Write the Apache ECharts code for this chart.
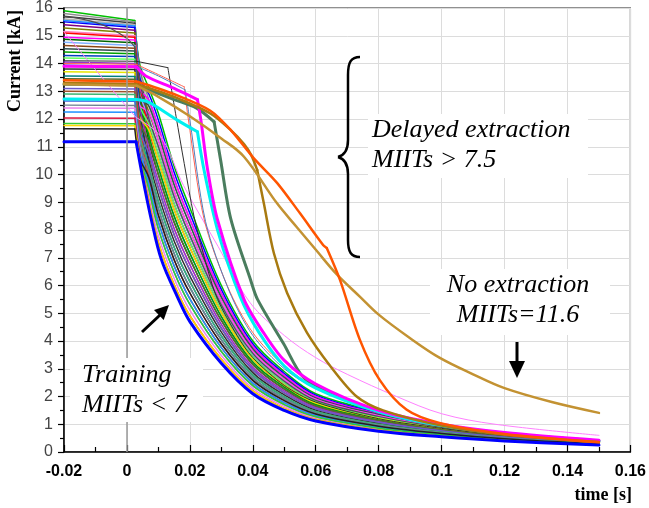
<!DOCTYPE html>
<html><head><meta charset="utf-8">
<script src="https://cdn.jsdelivr.net/npm/echarts@6/dist/echarts.min.js"></script>
<style>html,body{margin:0;padding:0;background:#fff}#c{width:649px;height:508px}</style>
</head><body><div id="c"></div>
<script>
// Common time grid (s) for the training curves
const T = [-0.02, 0.0025, 0.004, 0.007, 0.01, 0.015, 0.02, 0.03, 0.04, 0.05, 0.06, 0.08, 0.1, 0.12, 0.15];

// Training quench curves, current (kA) at the times in T
const trainingCurves = [
  [15.9, 15.55, 14.0, 13.1, 12.2, 10.3, 8.8, 6.0, 4.0, 2.9, 2.1, 1.45, 1.0, 0.7, 0.42],
  [15.8, 15.5, 13.9, 12.67, 11.71, 9.85, 8.39, 5.72, 3.81, 2.76, 2.0, 1.38, 0.96, 0.67, 0.4],
  [15.7, 15.45, 13.8, 12.03, 10.98, 9.18, 7.78, 5.3, 3.53, 2.55, 1.86, 1.28, 0.89, 0.63, 0.38],
  [15.6, 15.4, 13.7, 12.46, 11.47, 9.63, 8.19, 5.58, 3.72, 2.69, 1.95, 1.35, 0.93, 0.66, 0.4],
  [15.55, 15.35, 13.6, 11.38, 10.24, 8.5, 7.16, 4.88, 3.24, 2.34, 1.71, 1.17, 0.82, 0.58, 0.35],
  [15.5, 15.3, 13.5, 12.89, 11.96, 10.08, 8.6, 5.86, 3.9, 2.83, 2.05, 1.41, 0.98, 0.69, 0.41],
  [15.4, 15.2, 13.4, 11.81, 10.73, 8.95, 7.57, 5.16, 3.43, 2.48, 1.81, 1.24, 0.87, 0.61, 0.37],
  [15.28, 15.1, 13.3, 12.24, 11.22, 9.4, 7.98, 5.44, 3.62, 2.62, 1.9, 1.31, 0.91, 0.64, 0.39],
  [15.15, 15.0, 13.2, 10.95, 9.75, 8.05, 6.75, 4.6, 3.05, 2.2, 1.61, 1.1, 0.78, 0.55, 0.34],
  [15.1, 14.95, 13.2, 11.6, 10.49, 8.73, 7.37, 5.02, 3.34, 2.41, 1.76, 1.21, 0.84, 0.59, 0.36],
  [14.95, 14.85, 13.1, 12.67, 11.71, 9.85, 8.39, 5.72, 3.81, 2.76, 2.0, 1.38, 0.96, 0.67, 0.4],
  [14.87, 14.75, 13.0, 11.17, 10.0, 8.28, 6.96, 4.74, 3.15, 2.27, 1.66, 1.14, 0.8, 0.57, 0.34],
  [14.77, 14.65, 12.95, 12.03, 10.98, 9.18, 7.78, 5.3, 3.53, 2.55, 1.86, 1.28, 0.89, 0.63, 0.38],
  [14.65, 14.55, 12.9, 10.74, 9.51, 7.83, 6.55, 4.46, 2.96, 2.13, 1.56, 1.07, 0.76, 0.54, 0.33],
  [14.53, 14.45, 12.8, 12.46, 11.47, 9.63, 8.19, 5.58, 3.72, 2.69, 1.95, 1.35, 0.93, 0.66, 0.4],
  [14.41, 14.35, 12.7, 11.38, 10.24, 8.5, 7.16, 4.88, 3.24, 2.34, 1.71, 1.17, 0.82, 0.58, 0.35],
  [14.29, 14.25, 12.6, 10.31, 9.02, 7.38, 6.14, 4.18, 2.77, 1.99, 1.46, 1.0, 0.71, 0.5, 0.31],
  [14.2, 14.15, 12.5, 11.81, 10.73, 8.95, 7.57, 5.16, 3.43, 2.48, 1.81, 1.24, 0.87, 0.61, 0.37],
  [14.05, 14.0, 12.4, 10.95, 9.75, 8.05, 6.75, 4.6, 3.05, 2.2, 1.61, 1.1, 0.78, 0.55, 0.34],
  [13.93, 13.9, 12.5, 12.24, 11.22, 9.4, 7.98, 5.44, 3.62, 2.62, 1.9, 1.31, 0.91, 0.64, 0.39],
  [13.8, 13.78, 12.2, 10.52, 9.26, 7.6, 6.34, 4.32, 2.86, 2.06, 1.51, 1.03, 0.73, 0.52, 0.32],
  [13.7, 13.68, 12.1, 11.6, 10.49, 8.73, 7.37, 5.02, 3.34, 2.41, 1.76, 1.21, 0.84, 0.59, 0.36],
  [13.55, 13.53, 12.0, 10.09, 8.77, 7.15, 5.93, 4.04, 2.67, 1.92, 1.41, 0.96, 0.69, 0.49, 0.3],
  [13.45, 13.43, 11.9, 11.17, 10.0, 8.28, 6.96, 4.74, 3.15, 2.27, 1.66, 1.14, 0.8, 0.57, 0.34],
  [13.3, 13.28, 11.8, 9.88, 8.53, 6.93, 5.73, 3.9, 2.58, 1.85, 1.37, 0.93, 0.67, 0.48, 0.29],
  [13.1, 13.08, 11.6, 10.74, 9.51, 7.83, 6.55, 4.46, 2.96, 2.13, 1.56, 1.07, 0.76, 0.54, 0.33],
  [13.0, 12.98, 11.5, 9.66, 8.28, 6.7, 5.52, 3.76, 2.48, 1.78, 1.32, 0.89, 0.64, 0.46, 0.28],
  [12.9, 12.88, 11.4, 10.31, 9.02, 7.38, 6.14, 4.18, 2.77, 1.99, 1.46, 1.0, 0.71, 0.5, 0.31],
  [12.65, 12.64, 11.2, 9.45, 8.04, 6.48, 5.32, 3.62, 2.39, 1.71, 1.27, 0.86, 0.62, 0.45, 0.28],
  [12.5, 12.49, 11.1, 10.09, 8.77, 7.15, 5.93, 4.04, 2.67, 1.92, 1.41, 0.96, 0.69, 0.49, 0.3],
  [12.4, 12.39, 11.0, 9.23, 7.79, 6.25, 5.11, 3.48, 2.29, 1.64, 1.22, 0.82, 0.6, 0.43, 0.27],
  [12.25, 12.24, 10.9, 9.66, 8.28, 6.7, 5.52, 3.76, 2.48, 1.78, 1.32, 0.89, 0.64, 0.46, 0.28],
  [12.04, 12.03, 10.8, 9.02, 7.55, 6.03, 4.91, 3.34, 2.2, 1.57, 1.17, 0.79, 0.57, 0.42, 0.26],
  [11.84, 11.83, 10.7, 9.45, 8.04, 6.48, 5.32, 3.62, 2.39, 1.71, 1.27, 0.86, 0.62, 0.45, 0.28],
  [11.77, 11.76, 10.65, 9.02, 7.55, 6.03, 4.91, 3.34, 2.2, 1.57, 1.17, 0.79, 0.57, 0.42, 0.26],
  [11.65, 11.64, 10.6, 9.88, 8.53, 6.93, 5.73, 3.9, 2.58, 1.85, 1.37, 0.93, 0.67, 0.48, 0.29]
];
const trainingColors = ['#00c000','#909090','#404040','#b0b0b0','#2090ff','#0000ff','#800080','#808000','#ff80c0','#ff0000','#ff00ff','#006400','#80b0ff','#8b4513','#2f4f4f','#00a000','#0040c0','#60ff60','#9932cc','#ff40ff','#303030','#e6e600','#008080','#556b2f','#e03030','#6a5acd','#a0522d','#3cb371','#4169e1','#708090','#ee82ee','#1e90ff','#dc143c','#32cd32','#ffd700','#202020'];

// Individual curves
const earlyT = [-0.02, -0.015, -0.01, -0.005, 0.0, 0.0025, 0.004, 0.007, 0.01, 0.015, 0.02, 0.03, 0.04, 0.05, 0.06, 0.08, 0.1, 0.12, 0.15];
const earlyV = [15.68, 15.62, 15.48, 15.25, 14.9, 14.6, 13.4, 12.0, 11.0, 9.2, 7.8, 5.3, 3.55, 2.55, 1.86, 1.28, 0.89, 0.63, 0.38];
const pinkT = [-0.02, -0.01, 0.0, 0.003, 0.0108, 0.018, 0.029, 0.039, 0.05, 0.06, 0.07, 0.0857, 0.1, 0.117, 0.15];
const pinkV = [15.14, 13.78, 12.43, 12.05, 11.36, 9.6, 7.4, 5.4, 4.2, 3.4, 2.8, 2.0, 1.38, 1.0, 0.6];
const blackT = [-0.02, 0.003, 0.013, 0.0156, 0.0182, 0.0213, 0.0256, 0.0288, 0.035, 0.04, 0.05, 0.06, 0.08, 0.1, 0.12, 0.15];
const blackV = [14.1, 14.08, 13.85, 12.1, 10.4, 8.5, 6.6, 5.5, 4.2, 3.4, 2.4, 1.8, 1.2, 0.85, 0.6, 0.36];
const redThinT = [-0.02, 0.003, 0.01, 0.0182, 0.0195, 0.0245, 0.032, 0.04, 0.05, 0.06, 0.08, 0.1, 0.12, 0.15];
const redThinV = [14.0, 13.97, 13.6, 13.16, 12.0, 8.4, 5.96, 4.3, 3.1, 2.35, 1.5, 1.0, 0.7, 0.4];
const steelT = [-0.02, 0.003, 0.01, 0.0185, 0.02, 0.025, 0.0325, 0.04, 0.05, 0.06, 0.08, 0.1, 0.12, 0.15];
const steelV = [13.95, 13.9, 13.55, 13.05, 11.95, 8.3, 5.8, 4.2, 3.0, 2.3, 1.48, 0.98, 0.68, 0.4];
const blueT = [-0.02, 0.0029, 0.004, 0.0055, 0.0077, 0.0109, 0.016, 0.02, 0.03, 0.04, 0.05, 0.06, 0.08, 0.1, 0.12, 0.15];
const blueV = [11.18, 11.18, 10.5, 9.6, 8.4, 6.95, 5.6, 4.7, 3.2, 2.1, 1.5, 1.12, 0.75, 0.55, 0.4, 0.25];
const magentaT = [-0.02, 0.003, 0.006, 0.015, 0.0224, 0.0235, 0.0256, 0.0288, 0.0372, 0.0434, 0.05, 0.06, 0.08, 0.1, 0.12, 0.15];
const magentaV = [13.9, 13.88, 13.55, 13.1, 12.7, 11.96, 10.2, 8.36, 5.5, 4.3, 3.3, 2.45, 1.5, 1.0, 0.7, 0.42];
const cyanT = [-0.02, 0.003, 0.007, 0.016, 0.0224, 0.0245, 0.0288, 0.036, 0.042, 0.05, 0.06, 0.08, 0.1, 0.12, 0.15];
const cyanV = [12.72, 12.7, 12.6, 11.96, 11.54, 10.16, 8.0, 5.6, 4.3, 3.1, 2.3, 1.45, 0.95, 0.66, 0.4];
const tealT = [-0.02, 0.003, 0.006, 0.015, 0.022, 0.0277, 0.0298, 0.033, 0.0393, 0.0415, 0.0498, 0.056, 0.065, 0.08, 0.1, 0.12, 0.15];
const tealV = [13.25, 13.23, 13.1, 12.7, 12.4, 11.9, 10.5, 8.4, 6.2, 5.5, 3.9, 2.7, 2.1, 1.45, 0.95, 0.66, 0.4];
const delayedT = [-0.02, 0.003, 0.01, 0.016, 0.0265, 0.033, 0.0402, 0.0477, 0.055, 0.0624, 0.0635, 0.0677, 0.074, 0.0803, 0.0888, 0.0993, 0.12, 0.15];
const delayedV = [13.4, 13.35, 13.1, 12.85, 12.3, 11.6, 10.6, 9.7, 8.6, 7.45, 7.35, 6.2, 4.05, 2.6, 1.53, 1.05, 0.65, 0.35];
const oliveT = [-0.02, 0.003, 0.01, 0.016, 0.0265, 0.033, 0.0372, 0.0395, 0.0414, 0.0435, 0.0467, 0.0509, 0.0572, 0.0646, 0.073, 0.0814, 0.1, 0.12, 0.15];
const oliveV = [13.3, 13.25, 13.0, 12.75, 12.2, 11.6, 11.1, 10.7, 10.16, 8.96, 7.16, 5.73, 4.3, 3.1, 2.0, 1.5, 0.95, 0.62, 0.36];
const noExtT = [-0.02, 0.003, 0.01, 0.02, 0.03, 0.0372, 0.0477, 0.054, 0.0603, 0.0667, 0.074, 0.08, 0.09, 0.0993, 0.11, 0.12, 0.135, 0.15];
const noExtV = [13.25, 13.2, 12.8, 12.1, 11.3, 10.64, 8.96, 8.1, 7.25, 6.4, 5.6, 4.95, 4.1, 3.4, 2.8, 2.3, 1.8, 1.41];

const xMin = -0.02, xMax = 0.16, xStep = 0.02;
const yMin = 0, yMax = 16, yStep = 1;

const chart = echarts.init(document.getElementById('c'), null, {renderer: 'canvas'});
const series = [];
function pairs(ts, vs) { return ts.map((t, i) => [t, vs[i]]); }
// add a curve in pieces split at the given corner indices; each piece is smoothed on its own
function add(ts, vs, color, width, smooth, breaks) {
  const pts = pairs(ts, vs);
  const cuts = [0].concat(breaks || [], [pts.length - 1]);
  for (let k = 0; k < cuts.length - 1; k++) {
    const piece = pts.slice(cuts[k], cuts[k + 1] + 1);
    series.push({type: 'line', data: piece, symbol: 'none', smooth: piece.length > 2 ? smooth : false,
      lineStyle: {color: color, width: width, cap: 'round', join: 'round'}, silent: true});
  }
}
trainingCurves.forEach((row, i) => add(T, row, trainingColors[i], 1.5, 0.35, [1]));
series[0].markLine = {silent: true, symbol: ['none', 'none'], label: {show: false},
  lineStyle: {color: '#9a9a9a', width: 1.5, type: 'solid'}, data: [{xAxis: 0}]};
add(earlyT, earlyV, '#505050', 1.2, 0.3, [5]);
add(pinkT, pinkV, '#ff80ff', 1, 0.35, [3]);
add(blackT, blackV, '#303030', 1, 0.3, [1, 2]);
add(redThinT, redThinV, '#ff6050', 1, 0.3, [1, 3]);
add(steelT, steelV, '#5080c0', 1, 0.3, [1, 3]);
add(tealT, tealV, '#4a7d5e', 3, 0.3, [1, 5]);
add(cyanT, cyanV, '#00f0f0', 3, 0.3, [1, 4]);
add(magentaT, magentaV, '#ff00ff', 3, 0.3, [1, 4]);
add(blueT, blueV, '#0000ff', 3, 0.35, [1]);
add(oliveT, oliveV, '#a87a10', 2.5, 0.3, [1, 8]);
add(noExtT, noExtV, '#c39232', 2.5, 0.35, [1]);
add(delayedT, delayedV, '#ff5500', 2.5, 0.3, [1, 10]);

const fmt = v => String(Number(v.toFixed(2)));
const ital = 'italic 26px "Liberation Serif", "Times New Roman", serif';
function txt(x, y, s, align) {
  return {type: 'text', x: x, y: y, z: 101, silent: true,
    style: {text: s, font: ital, fill: '#000', align: align, verticalAlign: 'middle', textAlign: align, textVerticalAlign: 'middle'}};
}
function box(x, y, w, h) {
  return {type: 'rect', z: 100, silent: true, shape: {x: x, y: y, width: w, height: h}, style: {fill: '#fff'}};
}
function bz(x1, y1, c1x, c1y, c2x, c2y, x2, y2) {
  return {type: 'bezierCurve', z: 102, silent: true,
    shape: {x1: x1, y1: y1, cpx1: c1x, cpy1: c1y, cpx2: c2x, cpy2: c2y, x2: x2, y2: y2},
    style: {fill: null, stroke: '#000', lineWidth: 2.5}};
}
function seg(x1, y1, x2, y2, w) {
  return {type: 'line', z: 102, silent: true, shape: {x1: x1, y1: y1, x2: x2, y2: y2}, style: {stroke: '#000', lineWidth: w}};
}
const titleFont = 'bold 18px "Liberation Serif", "Times New Roman", serif';

chart.setOption({
  animation: false,
  backgroundColor: '#fff',
  grid: {left: 64, right: 15, top: 7, bottom: 56, show: true, borderColor: '#222', borderWidth: 1.2, backgroundColor: 'transparent'},
  xAxis: {type: 'value', min: xMin, max: xMax, interval: xStep,
    axisLine: {onZero: false, lineStyle: {color: '#000', width: 1.5}},
    axisTick: {inside: true, length: 7, lineStyle: {color: '#000', width: 1.2}},
    minorTick: {show: true, splitNumber: 2, length: 5, lineStyle: {color: '#000', width: 1.2}},
    splitLine: {show: true, lineStyle: {color: '#dcdcdc', width: 1}},
    axisLabel: {formatter: fmt, margin: 12, color: '#000', fontWeight: 'bold', fontSize: 16, fontFamily: '"Liberation Sans", Arial, sans-serif'}},
  yAxis: {type: 'value', min: yMin, max: yMax, interval: yStep,
    axisLine: {onZero: false, lineStyle: {color: '#000', width: 1.5}},
    axisTick: {inside: false, length: 6, lineStyle: {color: '#000', width: 1.2}},
    minorTick: {show: true, splitNumber: 2, length: 4, lineStyle: {color: '#000', width: 1.2}},
    splitLine: {show: true, lineStyle: {color: '#dcdcdc', width: 1}},
    axisLabel: {margin: 11, color: '#444', fontSize: 16, fontFamily: '"Liberation Sans", Arial, sans-serif'}},
  series: series,
  graphic: [
    {type: 'text', x: 15, y: 61, rotation: Math.PI / 2, silent: true,
      style: {text: 'Current [kA]', font: titleFont, fill: '#000', align: 'center', verticalAlign: 'middle', textAlign: 'center', textVerticalAlign: 'middle'}},
    {type: 'text', x: 632, y: 495, silent: true,
      style: {text: 'time [s]', font: titleFont, fill: '#000', align: 'right', verticalAlign: 'middle', textAlign: 'right', textVerticalAlign: 'middle'}},
    box(368, 114, 220, 64),
    txt(372, 130, 'Delayed extraction', 'left'),
    txt(372, 160, 'MIITs > 7.5', 'left'),
    box(430, 269, 180, 66),
    txt(518, 285, 'No extraction', 'center'),
    txt(518, 315, 'MIITs=11.6', 'center'),
    box(70, 358, 133, 64),
    txt(82, 375, 'Training', 'left'),
    txt(82, 405, 'MIITs < 7', 'left'),
    bz(360, 57, 351, 57, 348, 62, 348, 75),
    seg(348, 75, 348, 140, 2.5),
    bz(348, 140, 348, 150, 345, 155, 338, 157),
    bz(338, 157, 345, 159, 348, 164, 348, 174),
    seg(348, 174, 348, 240, 2.5),
    bz(348, 240, 348, 252, 351, 257, 360, 257),
    seg(142, 332, 160, 315, 3),
    {type: 'polygon', z: 102, silent: true, shape: {points: [[169, 305], [163.7, 320], [154, 310]]}, style: {fill: '#000'}},
    seg(517, 342, 517, 364, 3),
    {type: 'polygon', z: 102, silent: true, shape: {points: [[517, 378], [509, 361], [525, 361]]}, style: {fill: '#000'}}
  ]
});
</script></body></html>
